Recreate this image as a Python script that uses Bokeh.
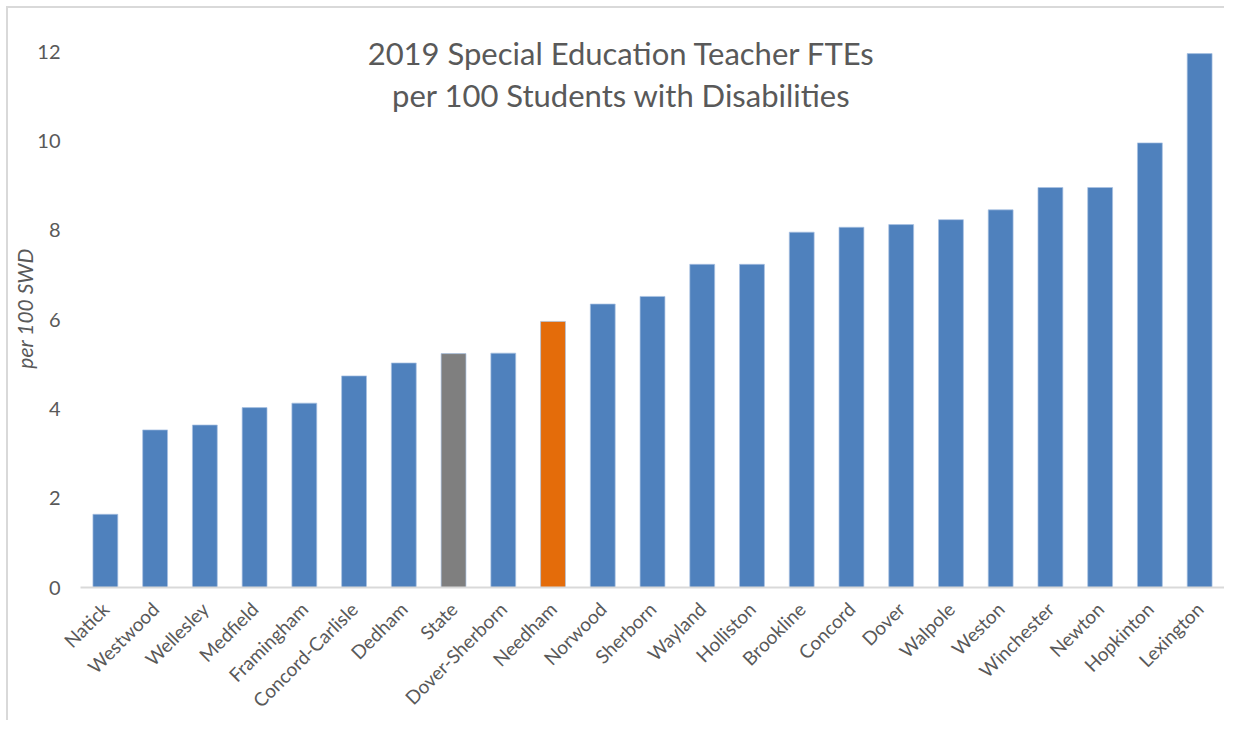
from bokeh.plotting import figure
from bokeh.models import ColumnDataSource, Label, FixedTicker, Range1d
from bokeh.embed import file_html
from bokeh.resources import INLINE
import math

districts = ["Natick", "Westwood", "Wellesley", "Medfield", "Framingham", "Concord-Carlisle",
             "Dedham", "State", "Dover-Sherborn", "Needham", "Norwood", "Sherborn", "Wayland",
             "Holliston", "Brookline", "Concord", "Dover", "Walpole", "Weston", "Winchester",
             "Newton", "Hopkinton", "Lexington"]
values = [1.64, 3.53, 3.64, 4.03, 4.13, 4.74, 5.03, 5.24, 5.25, 5.96, 6.35, 6.52, 7.24,
          7.24, 7.96, 8.07, 8.13, 8.24, 8.46, 8.96, 8.96, 9.96, 11.96]
y_ticks = [0, 2, 4, 6, 8, 10, 12]
title_lines = ["2019 Special Education Teacher FTEs", "per 100 Students with Disabilities"]
y_label = "per 100 SWD"

BLUE = "#4F81BD"
ORANGE = "#E46C0A"
GRAY = "#7F7F7F"
TEXT = "#595959"
FONT = "Lato"

colors = []
for d in districts:
    if d == "State":
        colors.append(GRAY)
    elif d == "Needham":
        colors.append(ORANGE)
    else:
        colors.append(BLUE)

src = ColumnDataSource(dict(x=districts, top=values, color=colors))

W, H = 1216, 712
p = figure(x_range=districts, y_range=Range1d(0, 12.5), width=W, height=H,
           output_backend="svg", toolbar_location=None,
           min_border_left=72, min_border_right=2, min_border_top=21, min_border_bottom=133)

p.vbar(x="x", top="top", width=0.5, source=src, fill_color="color",
       line_color="#A9C2E3", line_width=1, line_alpha=0.7)

p.xgrid.grid_line_color = None
p.ygrid.grid_line_color = None
p.outline_line_color = None
p.background_fill_color = "white"
p.border_fill_color = "white"

p.yaxis.ticker = FixedTicker(ticks=y_ticks)
p.yaxis.axis_line_color = None
p.yaxis.major_tick_line_color = None
p.yaxis.minor_tick_line_color = None
p.yaxis.major_tick_out = 0
p.yaxis.major_tick_in = 0
p.yaxis.major_label_text_font = FONT
p.yaxis.major_label_text_font_size = "20px"
p.yaxis.major_label_text_color = TEXT
p.yaxis.major_label_standoff = 20
p.yaxis.axis_label = y_label
p.yaxis.axis_label_text_font = FONT
p.yaxis.axis_label_text_font_style = "italic"
p.yaxis.axis_label_text_font_size = "21px"
p.yaxis.axis_label_text_color = TEXT
p.yaxis.axis_label_standoff = -3

p.xaxis.axis_line_color = "#D9D9D9"
p.xaxis.axis_line_width = 2
p.xaxis.major_tick_line_color = None
p.xaxis.minor_tick_line_color = None
p.xaxis.major_tick_out = 0
p.xaxis.major_tick_in = 0
p.xaxis.major_label_orientation = math.pi / 4
p.xaxis.major_label_text_font = FONT
p.xaxis.major_label_text_font_size = "19px"
p.xaxis.major_label_text_color = TEXT
p.xaxis.major_label_standoff = 18

for i, line in enumerate(title_lines):
    lab = Label(x=541, y=535 - 42 * i, x_units="screen", y_units="screen",
                text=line, text_align="center", text_baseline="alphabetic",
                text_font=FONT, text_font_size="31px", text_color=TEXT)
    p.add_layout(lab)

p.margin = (6, 0, 0, 6)
p.styles = {"border-top": "2px solid #D9D9D9", "border-left": "2px solid #D9D9D9",
            "box-sizing": "content-box"}

open("out.html", "w").write(file_html(p, INLINE))
